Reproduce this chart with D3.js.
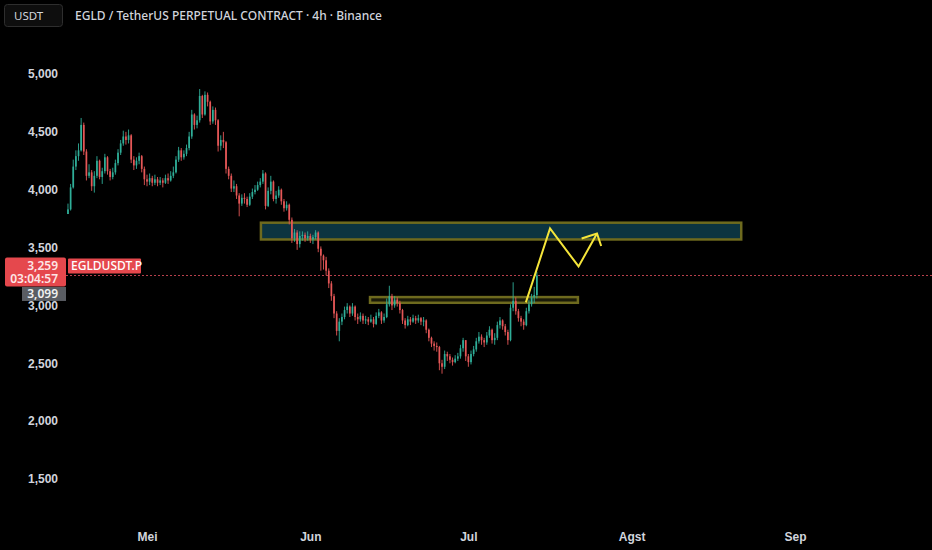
<!DOCTYPE html>
<html>
<head>
<meta charset="utf-8">
<script src="https://cdn.jsdelivr.net/npm/d3@7/dist/d3.min.js"></script>
<style>
  html, body { margin: 0; padding: 0; background: #000; }
  svg { display: block; font-family: "Noto Sans", "DejaVu Sans", sans-serif; }
  .axis text { fill: #d1d4dc; font-size: 12px; }
  .axis path, .axis line { display: none; }
</style>
</head>
<body>
<svg id="chart" width="932" height="550"></svg>
<script>
/* ── Data (12h candles) ───────────────────────────────── */

const firstCandle = Date.UTC(2024, 3, 16, 0);   // 16 Apr
const candleStepH = 12;
const firstOpen   = 3790;

const candleCloses = [
  3830,4020,4200,4290,4340,4560,4330,4120,4150,4030,
  4120,4250,4110,4160,4280,4160,4110,4150,4230,4320,
  4400,4460,4430,4470,4260,4210,4250,4290,4180,4090,
  4070,4100,4060,4090,4060,4080,4060,4100,4080,4120,
  4150,4260,4340,4280,4310,4360,4460,4650,4560,4600,
  4810,4650,4820,4760,4590,4690,4600,4380,4430,4410,
  4180,4120,4010,4030,3950,3880,3930,3920,3870,3940,
  3980,4000,4040,4070,4140,3860,3990,4070,3920,3950,
  4000,3900,3840,3870,3740,3580,3630,3530,3600,3610,
  3580,3600,3570,3590,3630,3490,3430,3390,3300,3190,
  3080,2930,2780,2860,2900,2960,2990,2930,2990,2900,
  2880,2910,2870,2880,2860,2880,2840,2910,2940,2870,
  2900,3010,3080,3000,3050,3020,2960,2870,2830,2880,
  2860,2890,2870,2890,2860,2870,2790,2720,2670,2650,
  2640,2500,2470,2580,2560,2530,2510,2540,2560,2630,
  2700,2560,2510,2580,2620,2690,2730,2700,2680,2740,
  2790,2700,2720,2830,2870,2820,2770,2700,2980,3040,
  2950,2890,2860,2830,2950,3010,3070,3090,3259
];
const candleHighs = [
  3880,4050,4260,4340,4400,4620,4580,4350,4220,4170,
  4160,4290,4260,4190,4310,4290,4180,4190,4260,4350,
  4430,4510,4500,4520,4480,4290,4280,4320,4300,4200,
  4130,4140,4120,4130,4110,4110,4100,4130,4140,4160,
  4200,4290,4370,4360,4340,4390,4500,4690,4660,4640,
  4870,4820,4850,4840,4770,4720,4710,4610,4470,4500,
  4420,4200,4140,4080,4050,3970,3960,3970,3940,3970,
  4010,4040,4070,4100,4170,4150,4020,4120,4080,3990,
  4030,4010,3920,3900,3880,3760,3660,3650,3640,3640,
  3630,3640,3620,3610,3650,3640,3510,3440,3420,3320,
  3210,3100,2950,2890,2930,2990,3020,3000,3020,3000,
  2930,2940,2930,2910,2900,2920,2900,2940,2970,2950,
  2930,3060,3170,3100,3080,3070,3040,2970,2890,2910,
  2900,2920,2910,2920,2900,2900,2880,2800,2730,2690,
  2680,2650,2530,2610,2600,2580,2550,2570,2590,2660,
  2720,2700,2580,2610,2650,2720,2770,2750,2720,2770,
  2820,2800,2760,2860,2900,2880,2840,2790,3010,3200,
  3070,2970,2910,2880,2980,3050,3100,3160,3290
];
const candleLows = [
  3790,3820,4010,4170,4250,4330,4300,4080,4100,3990,
  3975,4100,4090,4050,4140,4130,4080,4090,4130,4210,
  4300,4380,4390,4400,4230,4170,4180,4220,4150,4040,
  4030,4040,4030,4040,4030,4040,4020,4050,4050,4070,
  4100,4140,4240,4250,4260,4290,4340,4440,4520,4530,
  4580,4620,4640,4720,4560,4570,4560,4330,4340,4360,
  4140,4090,3980,3980,3920,3770,3860,3880,3850,3860,
  3920,3960,3990,4020,4050,3830,3850,3960,3900,3880,
  3930,3870,3810,3820,3700,3540,3550,3480,3500,3560,
  3550,3560,3540,3530,3570,3460,3300,3310,3260,3150,
  3040,2890,2740,2690,2830,2880,2930,2900,2910,2870,
  2840,2860,2840,2840,2830,2850,2810,2830,2890,2840,
  2850,2890,2990,2960,2980,2990,2930,2840,2800,2820,
  2830,2850,2840,2850,2830,2820,2760,2690,2640,2610,
  2600,2440,2410,2450,2520,2500,2480,2500,2520,2540,
  2600,2520,2470,2490,2560,2600,2670,2660,2640,2660,
  2720,2670,2660,2700,2800,2790,2740,2660,2690,2950,
  2920,2860,2820,2790,2820,2930,2990,3020,3060
];

const priceTicks  = [5000, 4500, 4000, 3500, 3000, 2500, 2000, 1500];
const monthTicks  = [Date.UTC(2024,4,1), Date.UTC(2024,5,1), Date.UTC(2024,6,1), Date.UTC(2024,7,1), Date.UTC(2024,8,1)];
const monthLabels = ['Mei', 'Jun', 'Jul', 'Agst', 'Sep'];

// drawn zones [start, end, top price, bottom price]
const upperZone = [Date.UTC(2024,4,22,15), Date.UTC(2024,7,21,19), 3715, 3570];
const lowerZone = [Date.UTC(2024,5,12,8),  Date.UTC(2024,6,21,19), 3072, 3023];

// yellow projection path + arrow wings
const projDates  = [Date.UTC(2024,6,11,22), Date.UTC(2024,6,16,12), Date.UTC(2024,6,21,22), Date.UTC(2024,6,25,10)];
const projPrices = [3026, 3665, 3337, 3622];
const arrowDates  = [Date.UTC(2024,6,22,12), Date.UTC(2024,6,25,10), Date.UTC(2024,6,26,5)];
const arrowPrices = [3579, 3622, 3514];

const lastPrice  = 3259;
const countdown  = '03:04:57';
const greyPrice  = 3099;
const symbolName = 'EGLDUSDT.P';
const titleText  = 'EGLD / TetherUS PERPETUAL CONTRACT · 4h · Binance';

/* ── Scales ───────────────────────────────────────────── */

const W = 932, H = 550;
const svg = d3.select('#chart');
svg.append('rect').attr('width', W).attr('height', H).attr('fill', '#000');

const x = d3.scaleUtc()
  .domain([monthTicks[0], monthTicks[4]])
  .range([147, 795]);
const y = d3.scaleLinear()
  .domain([1500, 5000])
  .range([479, 74]);

const candles = candleCloses.map((c, i) => {
  const o = i === 0 ? firstOpen : candleCloses[i - 1];
  return {
    t: firstCandle + i * candleStepH * 3600e3,
    o, c,
    h: Math.max(candleHighs[i], o, c),
    l: Math.min(candleLows[i], o, c)
  };
});

/* ── Zones (below candles) ────────────────────────────── */

function zone(z, fill) {
  svg.append('rect')
    .attr('x', x(z[0]))
    .attr('y', y(z[2]))
    .attr('width', x(z[1]) - x(z[0]))
    .attr('height', y(z[3]) - y(z[2]))
    .attr('fill', fill)
    .attr('stroke', '#6e6a1e')
    .attr('stroke-width', 2.5);
}
zone(upperZone, '#0c3440');
zone(lowerZone, '#1a1a08');

/* ── Current price line ───────────────────────────────── */

const yLine = Math.round(y(lastPrice)) + 0.5;
svg.append('line')
  .attr('x1', 66).attr('x2', W)
  .attr('y1', yLine).attr('y2', yLine)
  .attr('stroke', '#b8404c')
  .attr('stroke-width', 1)
  .attr('stroke-dasharray', '2,2');

/* ── Candles ──────────────────────────────────────────── */

const UP = '#2fae98', DOWN = '#e55757';
const bodyW = 1.7;
const cg = svg.append('g').attr('class', 'candles');

cg.selectAll('line')
  .data(candles)
  .join('line')
  .attr('x1', d => x(d.t)).attr('x2', d => x(d.t))
  .attr('y1', d => y(d.h)).attr('y2', d => y(d.l))
  .attr('stroke', d => d.c >= d.o ? UP : DOWN)
  .attr('stroke-width', 0.9);

cg.selectAll('rect')
  .data(candles)
  .join('rect')
  .attr('x', d => x(d.t) - bodyW / 2)
  .attr('width', bodyW)
  .attr('y', d => y(Math.max(d.o, d.c)))
  .attr('height', d => Math.max(1, Math.abs(y(d.o) - y(d.c))))
  .attr('fill', d => d.c >= d.o ? UP : DOWN);

/* ── Projection drawing ───────────────────────────────── */

const line = d3.line().x(d => x(d[0])).y(d => y(d[1]));
svg.append('path')
  .attr('d', line(d3.zip(projDates, projPrices)))
  .attr('fill', 'none')
  .attr('stroke', '#f5e53a')
  .attr('stroke-width', 2)
  .attr('stroke-linejoin', 'miter');
svg.append('path')
  .attr('d', line(d3.zip(arrowDates, arrowPrices)))
  .attr('fill', 'none')
  .attr('stroke', '#f5e53a')
  .attr('stroke-width', 2);

/* ── Axes ─────────────────────────────────────────────── */

svg.append('g')
  .attr('class', 'axis')
  .attr('transform', 'translate(62,0)')
  .call(d3.axisLeft(y).tickValues(priceTicks).tickSize(0).tickPadding(4).tickFormat(d3.format(',')))
  .selectAll('text').attr('font-weight', 600);

svg.append('g')
  .attr('class', 'axis')
  .attr('transform', 'translate(0,526)')
  .call(d3.axisBottom(x).tickValues(monthTicks).tickSize(0).tickPadding(6)
    .tickFormat((d, i) => monthLabels[i]))
  .selectAll('text').attr('font-size', 11).attr('font-weight', 600);

/* ── Price labels on the scale ────────────────────────── */

const yl = y(lastPrice);
svg.append('rect')
  .attr('x', 5).attr('y', yl - 18).attr('width', 61).attr('height', 29)
  .attr('rx', 2).attr('fill', '#e5484d');
svg.append('text')
  .attr('x', 58).attr('y', yl - 5)
  .attr('text-anchor', 'end').attr('fill', '#fde6e6')
  .attr('font-size', 12).attr('font-weight', 600)
  .text(d3.format(',')(lastPrice));
svg.append('text')
  .attr('x', 58).attr('y', yl + 8)
  .attr('text-anchor', 'end').attr('fill', '#fde6e6')
  .attr('font-size', 12).attr('font-weight', 600)
  .text(countdown);

svg.append('rect')
  .attr('x', 68).attr('y', yl - 17).attr('width', 73).attr('height', 15)
  .attr('rx', 1).attr('fill', '#e5484d');
svg.append('text')
  .attr('x', 71).attr('y', yl - 5.5)
  .attr('fill', '#fff').attr('font-size', 12).attr('font-weight', 500)
  .text(symbolName);

svg.append('rect')
  .attr('x', 22).attr('y', yl + 11.5).attr('width', 44).attr('height', 14)
  .attr('fill', '#5a5d63');
svg.append('text')
  .attr('x', 58).attr('y', yl + 23)
  .attr('text-anchor', 'end').attr('fill', '#f0f0f0')
  .attr('font-size', 12).attr('font-weight', 600)
  .text(d3.format(',')(greyPrice));

/* ── Header ───────────────────────────────────────────── */

svg.append('rect')
  .attr('x', 4.5).attr('y', 4.5).attr('width', 58).attr('height', 22)
  .attr('rx', 3).attr('fill', '#0e0e0e').attr('stroke', '#2e2e2e');
svg.append('text')
  .attr('x', 14).attr('y', 20)
  .attr('fill', '#d1d4dc').attr('font-size', 11.5)
  .text('USDT');
svg.append('text')
  .attr('x', 75).attr('y', 19.5)
  .attr('fill', '#d1d4dc').attr('font-size', 12).attr('font-weight', 500)
  .text(titleText);
</script>
</body>
</html>
